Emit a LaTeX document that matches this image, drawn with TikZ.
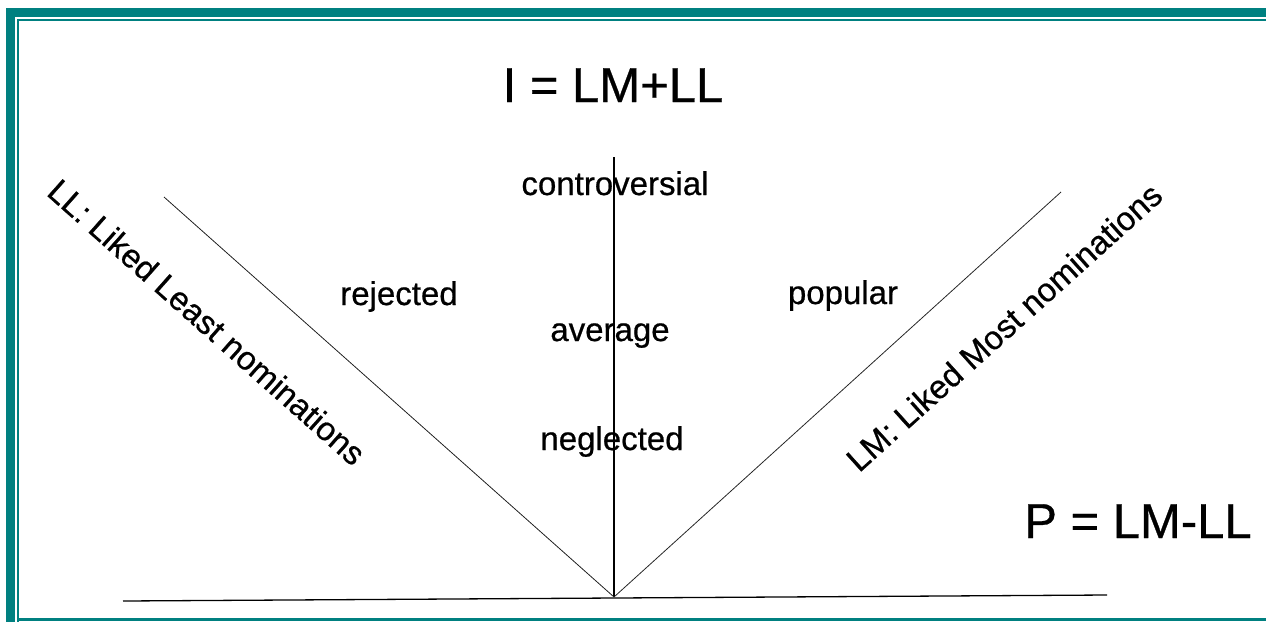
\documentclass[tikz,border=0pt]{standalone}
\usepackage{fontspec}
\setmainfont[FakeBold=0.6,AutoFakeBold=0.6]{Liberation Sans}
\definecolor{frameteal}{RGB}{0,128,128}
\begin{document}
\begin{tikzpicture}[x=1pt,y=-1pt,
  lbl/.style={inner sep=0pt,font=\fontsize{33}{36}\selectfont\bfseries},
  big/.style={inner sep=0pt,font=\fontsize{49}{52}\selectfont\bfseries},
  axis/.style={line width=1.3pt,black},
  diag/.style={line width=0.8pt,black!85}]
\useasboundingbox (0,0) rectangle (1266,622);
% frame
\fill[frameteal] (6,8) rectangle (15,622);
\fill[frameteal] (6,8) rectangle (1266,17);
\fill[frameteal] (17,19) rectangle (1266,21);
\fill[frameteal] (17,19) rectangle (19,622);
\fill[frameteal] (17,618) rectangle (1266,621);
% coordinates
\coordinate (apex) at (614,597);
\coordinate (lltop) at (164,197);
\coordinate (lmtop) at (1061,192);
\coordinate (vtop) at (614,157);
\coordinate (bl) at (123,601);
\coordinate (br) at (1107,595);
% lines
\draw[axis] (bl) -- (br);
\draw[axis] (apex) -- (vtop);
\draw[diag] (apex) -- (lltop);
\draw[diag] (apex) -- (lmtop);
% texts
\node[big,anchor=base] (I) at (613,102) {I = LM+LL};
\node[big,anchor=base] (P) at (1138,538) {P = LM-LL};
\node[lbl,anchor=base] (contro) at (615,195) {controversial};
\node[lbl,anchor=base] (rej) at (399,305) {rejected};
\node[lbl,anchor=base] (pop) at (843,304) {popular};
\node[lbl,anchor=base] (avg) at (610,341) {average};
\node[lbl,anchor=base] (neg) at (612,450) {neglected};
\node[lbl,rotate=-41.6] (LL) at (207,322) {LL: Liked Least nominations};
\node[lbl,rotate=42] (LM) at (1004,327) {LM: Liked Most nominations};
\end{tikzpicture}
\end{document}
